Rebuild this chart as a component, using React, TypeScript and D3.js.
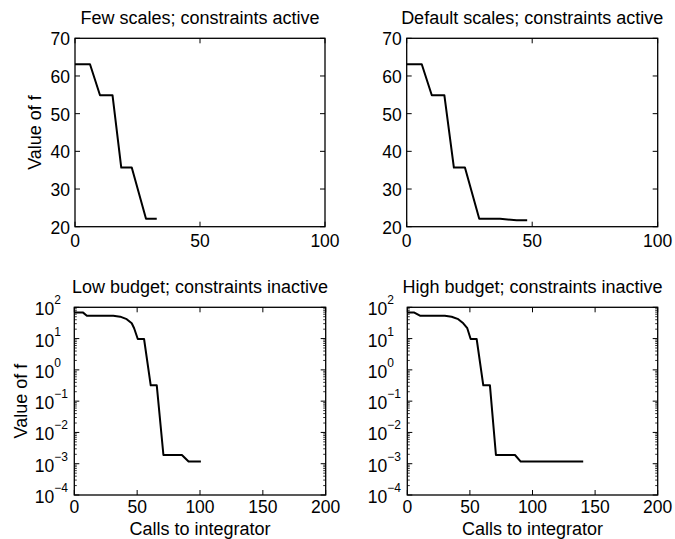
import React from "react";
import * as d3 from "d3";

const titles = [
  "Few scales; constraints active",
  "Default scales; constraints active",
  "Low budget; constraints inactive",
  "High budget; constraints inactive",
];

const fewX = [0, 6, 10, 15, 18.5, 22.7, 28.4, 32.7];
const fewY = [63.1, 63.1, 54.9, 54.9, 35.7, 35.7, 22.1, 22.1];

const defX = [0, 6, 10, 15, 18.8, 23.2, 28.9, 37.2, 43.8, 48];
const defY = [63.1, 63.1, 54.9, 54.9, 35.7, 35.7, 22.1, 22.1, 21.7, 21.7];

const lowX = [0, 7, 10, 31, 36.5, 41.7, 45.7, 47.6, 50.5, 55.5, 60.8, 65.6, 70.9, 85.6, 90.9, 100.7];
const lowY = [67.6, 67.6, 53.7, 53.7, 50.1, 41.7, 30.9, 21.4, 9.7, 9.7, 0.32, 0.32, 0.0019, 0.0019, 0.00117, 0.00117];

const highX = [0, 5.6, 10.1, 30, 35.4, 40.7, 44.7, 47.9, 50.6, 55.4, 60.7, 66, 70.8, 86, 90.6, 140.5];
const highY = [67.6, 67.6, 53.7, 53.7, 50.1, 41.7, 30.9, 21.4, 9.7, 9.7, 0.32, 0.32, 0.0019, 0.0019, 0.00117, 0.00117];

const linYTicks = [20, 30, 40, 50, 60, 70];
const linXTicks = [0, 50, 100];
const logYExps = [-4, -3, -2, -1, 0, 1, 2];
const logXTicks = [0, 50, 100, 150, 200];

const FONT = "'Liberation Sans', Arial, Helvetica, sans-serif";
const FS = 18;
const TFS = 17.5;

type PanelProps = {
  x0: number; x1: number; y0: number; y1: number;
  title: string; xs: number[]; ys: number[];
  log: boolean; ylabelX: number | null; xlabel: boolean;
};

function Panel({ x0, x1, y0, y1, title, xs, ys, log, ylabelX, xlabel }: PanelProps) {
  const xScale = d3.scaleLinear().domain(log ? [0, 200] : [0, 100]).range([x0, x1]);
  const yScale: any = log
    ? d3.scaleLog().domain([1e-4, 1e2]).range([y1, y0])
    : d3.scaleLinear().domain([20, 70]).range([y1, y0]);
  const pts: [number, number][] = xs.map((v, i) => [v, ys[i]]);
  const line = d3.line<[number, number]>().x((d) => xScale(d[0])).y((d) => yScale(d[1]));
  const xt = log ? logXTicks : linXTicks;
  const TL = 5;
  const minor: number[] = [];
  if (log) {
    for (let e = -4; e < 2; e++) for (let m = 2; m <= 9; m++) minor.push(m * Math.pow(10, e));
  }
  const cx = (x0 + x1) / 2;
  return (
    <g>
      <text x={cx} y={y0 - 14} textAnchor="middle" fontSize={FS}>{title}</text>
      {xt.map((t) => (
        <g key={"x" + t}>
          <line x1={xScale(t)} x2={xScale(t)} y1={y1} y2={y1 - TL} stroke="#000" />
          <line x1={xScale(t)} x2={xScale(t)} y1={y0} y2={y0 + TL} stroke="#000" />
          <text x={xScale(t)} y={y1 + (log ? 18 : 20)} textAnchor="middle" fontSize={TFS}>{t}</text>
        </g>
      ))}
      {!log && linYTicks.map((t) => (
        <g key={"y" + t}>
          <line x1={x0} x2={x0 + TL} y1={yScale(t)} y2={yScale(t)} stroke="#000" />
          <line x1={x1} x2={x1 - TL} y1={yScale(t)} y2={yScale(t)} stroke="#000" />
          <text x={x0 - 5} y={yScale(t) + 7} textAnchor="end" fontSize={TFS}>{t}</text>
        </g>
      ))}
      {log && logYExps.map((e) => {
        const yy = yScale(Math.pow(10, e));
        return (
          <g key={"e" + e}>
            <line x1={x0} x2={x0 + TL} y1={yy} y2={yy} stroke="#000" />
            <line x1={x1} x2={x1 - TL} y1={yy} y2={yy} stroke="#000" />
            <text x={x0 - 20} y={yy + 8} textAnchor="end" fontSize={TFS}>10</text>
            <text x={x0 - 20} y={yy - 3} textAnchor="start" fontSize={12}>{e < 0 ? "\u2212" + Math.abs(e) : String(e)}</text>
          </g>
        );
      })}
      {log && minor.map((v, i) => (
        <g key={"m" + i}>
          <line x1={x0} x2={x0 + 2.5} y1={yScale(v)} y2={yScale(v)} stroke="#000" strokeWidth={0.8} />
          <line x1={x1} x2={x1 - 2.5} y1={yScale(v)} y2={yScale(v)} stroke="#000" strokeWidth={0.8} />
        </g>
      ))}
      <rect x={x0} y={y0} width={x1 - x0} height={y1 - y0} fill="none" stroke="#000" strokeWidth={1.3} />
      <path d={line(pts) || ""} fill="none" stroke="#000" strokeWidth={2} strokeLinejoin="round" />
      {ylabelX !== null && (
        <text transform={`translate(${ylabelX},${(y0 + y1) / 2}) rotate(-90)`} textAnchor="middle" fontSize={FS}>Value of f</text>
      )}
      {xlabel && (
        <text x={cx} y={y1 + 40} textAnchor="middle" fontSize={FS}>Calls to integrator</text>
      )}
    </g>
  );
}

export default function App() {
  return (
    <svg width={675} height={539} style={{ position: "absolute", left: 0, top: 0, background: "#fff" }} fontFamily={FONT}>
      <rect x={0} y={0} width={675} height={539} fill="#fff" />
      <Panel x0={75} x1={325} y0={38.3} y1={226.7} title={titles[0]} xs={fewX} ys={fewY} log={false} ylabelX={41} xlabel={false} />
      <Panel x0={406.7} x1={657.7} y0={38.3} y1={226.7} title={titles[1]} xs={defX} ys={defY} log={false} ylabelX={null} xlabel={false} />
      <Panel x0={74.3} x1={325.7} y0={307.3} y1={495} title={titles[2]} xs={lowX} ys={lowY} log={true} ylabelX={27} xlabel={true} />
      <Panel x0={407.3} x1={657.7} y0={307.3} y1={495} title={titles[3]} xs={highX} ys={highY} log={true} ylabelX={null} xlabel={true} />
    </svg>
  );
}
